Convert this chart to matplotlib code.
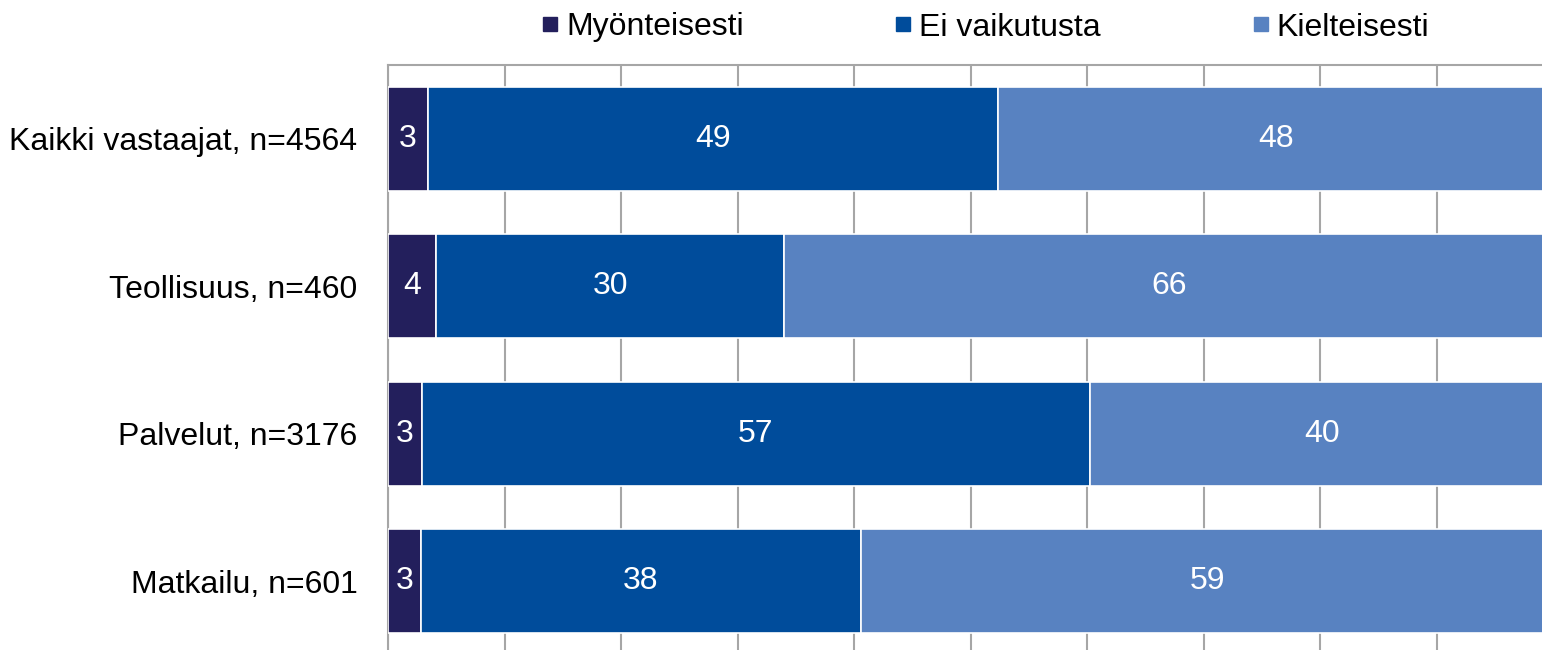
import matplotlib
matplotlib.use("Agg")
import matplotlib.pyplot as plt
from matplotlib.lines import Line2D

plt.rcParams['font.family'] = ['Liberation Sans', 'DejaVu Sans']

categories = ["Kaikki vastaajat, n=4564", "Teollisuus, n=460", "Palvelut, n=3176", "Matkailu, n=601"]
series_names = ["Myönteisesti", "Ei vaikutusta", "Kielteisesti"]
myonteisesti = [3.4, 4.1, 2.9, 2.8]
ei_vaikutusta = [48.9, 29.9, 57.3, 37.8]
kielteisesti = [47.7, 66.0, 39.8, 59.4]
colors = ["#231F5C", "#004C9B", "#5882C1"]

fig = plt.figure(figsize=(15.42, 6.5), dpi=100)
ax = fig.add_axes([388/1542, 1-655/650, (1553.6-388)/1542, (655-65)/650])

y = list(range(len(categories)))
left = [0.0]*len(categories)
for vals, col, name in zip([myonteisesti, ei_vaikutusta, kielteisesti], colors, series_names):
    ax.barh(y, vals, left=left, height=0.705, color=col, edgecolor='white', linewidth=1.2, label=name, zorder=3)
    for yi, l, v in zip(y, left, vals):
        ax.text(l + v/2, yi, f"{round(v):d}", ha='center', va='center', color='white', fontsize=23, zorder=4)
    left = [a+b for a, b in zip(left, vals)]

ax.set_xlim(0, 100)
ax.set_ylim(len(categories)-0.5, -0.5)
ax.set_xticks(range(0, 101, 10))
ax.xaxis.grid(True, color='#A6A6A6', linewidth=1.5, zorder=0)
ax.set_axisbelow(True)
ax.tick_params(axis='x', bottom=False, labelbottom=False)
ax.set_yticks(y)
ax.set_yticklabels(categories, fontsize=23)
ax.tick_params(axis='y', length=0, pad=22)
for s in ['right', 'bottom']:
    ax.spines[s].set_visible(False)
for s in ['left', 'top']:
    ax.spines[s].set_color('#A6A6A6')
    ax.spines[s].set_linewidth(1.5)

handles = [Line2D([], [], marker='s', linestyle='none', markersize=10, color=c) for c in colors]
fig.legend(handles, series_names, loc='upper center', bbox_to_anchor=(984/1542, 1.025), ncol=3,
           frameon=False, fontsize=23, handletextpad=0.15, columnspacing=4.65, handlelength=0.7)

fig.savefig("out.png", dpi=100)
